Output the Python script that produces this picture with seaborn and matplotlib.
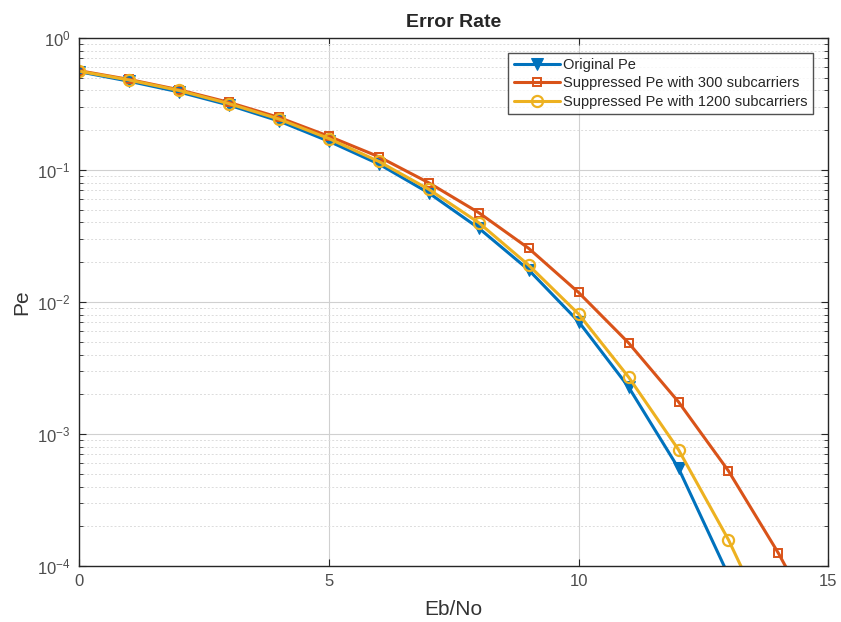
import numpy as np
import pandas as pd
import matplotlib
matplotlib.use("Agg")
import matplotlib.pyplot as plt
import seaborn as sns
from matplotlib.ticker import LogLocator, NullFormatter

# values
ebno = [0, 1, 2, 3, 4, 5, 6, 7, 8, 9, 10, 11, 12, 13, 14, 15]
pe_original = [0.555, 0.47, 0.39, 0.31, 0.235, 0.165, 0.111, 0.067, 0.0363, 0.0175,
               0.0071, 0.00227, 0.00055, 0.000085, 0.000010, 0.000001]
pe_300 = [0.565, 0.485, 0.405, 0.325, 0.25, 0.18, 0.126, 0.080, 0.0475, 0.0255,
          0.0118, 0.0049, 0.00175, 0.000525, 0.000125, 0.000025]
pe_1200 = [0.56, 0.48, 0.40, 0.318, 0.243, 0.173, 0.116, 0.0714, 0.0399, 0.019,
           0.0081, 0.0027, 0.00076, 0.000158, 0.000025, 0.000003]

labels = ["Original Pe", "Suppressed Pe with 300 subcarriers",
          "Suppressed Pe with 1200 subcarriers"]

sns.set_style("ticks")
plt.rcParams['font.family'] = ['Liberation Sans', 'DejaVu Sans']

fig = plt.figure(figsize=(8.41, 6.22), dpi=100)
ax = fig.add_axes([0.094, 0.090, 0.891, 0.849])

sns.lineplot(x=ebno, y=pe_original, ax=ax, color='#0072BD', lw=2.2, marker='v',
             markersize=8, markerfacecolor='#0072BD', markeredgecolor='#0072BD',
             label=labels[0])
sns.lineplot(x=ebno, y=pe_300, ax=ax, color='#D95319', lw=2.2, marker='s',
             markersize=6, markerfacecolor='none', markeredgecolor='#D95319',
             markeredgewidth=1.4, label=labels[1])
sns.lineplot(x=ebno, y=pe_1200, ax=ax, color='#EDB120', lw=2.2, marker='o',
             markersize=8, markerfacecolor='none', markeredgecolor='#EDB120',
             markeredgewidth=1.6, label=labels[2])

ax.set_yscale('log')
ax.set_xlim(0, 15)
ax.set_ylim(1e-4, 1)
ax.set_xticks([0, 5, 10, 15])
ax.yaxis.set_major_locator(LogLocator(base=10, numticks=10))
ax.yaxis.set_minor_locator(LogLocator(base=10, subs=np.arange(2, 10), numticks=20))
ax.yaxis.set_minor_formatter(NullFormatter())

ax.grid(which='major', axis='both', color='#d0d0d0', lw=0.8, ls='-')
ax.grid(which='minor', axis='y', color='#dcdcdc', lw=0.7, ls=(0, (2, 2)))
ax.set_axisbelow(True)

ax.tick_params(which='both', direction='in', top=True, right=True,
               labelsize=12, colors='#262626', labelcolor='#4d4d4d')
ax.tick_params(which='major', length=5, pad=6)
ax.tick_params(which='minor', length=3)
for s in ax.spines.values():
    s.set_color('#262626')
    s.set_linewidth(1.0)

ax.set_title("Error Rate", fontsize=14, fontweight='bold', pad=8)
ax.set_xlabel("Eb/No", fontsize=15, color='#333333', labelpad=8)
ax.set_ylabel("Pe", fontsize=15, color='#333333', labelpad=4)

leg = ax.legend(loc='upper right', bbox_to_anchor=(0.985, 0.98), fontsize=10.5,
                frameon=True, fancybox=False, handlelength=3.2, borderpad=0.35,
                labelspacing=0.3, handletextpad=0.2, borderaxespad=0.3)
leg.get_frame().set_edgecolor('#262626')
leg.get_frame().set_linewidth(1.0)

fig.savefig("out.png", dpi=100)
